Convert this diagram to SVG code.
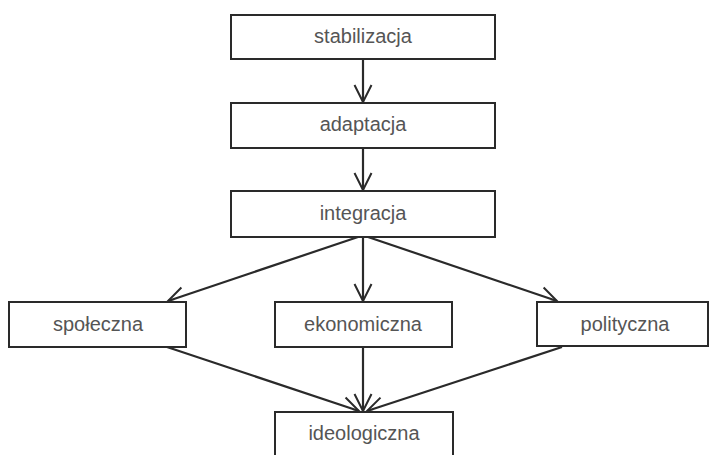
<svg xmlns="http://www.w3.org/2000/svg" width="709" height="455" viewBox="0 0 709 455">
<style>
.box{fill:#fff;stroke:#2a2a2a;stroke-width:2}
.lbl{font-family:"Liberation Sans",Arial,sans-serif;font-size:20px;fill:#555;text-anchor:middle}
.con{stroke:#2a2a2a;stroke-width:2.2;fill:none}
</style>
<defs>
<marker id="arr" markerUnits="userSpaceOnUse" viewBox="-20 -11 22 22" markerWidth="22" markerHeight="22" refX="0" refY="0" orient="auto">
<path d="M-17,-8.5 L0,0 L-17,8.5" fill="none" stroke="#2a2a2a" stroke-width="2"/>
</marker>
</defs>
<rect width="709" height="455" fill="#fff"/>
<g id="connectors">
<line class="con" x1="363" y1="59" x2="363" y2="102" marker-end="url(#arr)"/>
<line class="con" x1="363" y1="148" x2="363" y2="190" marker-end="url(#arr)"/>
<line class="con" x1="363" y1="237" x2="363" y2="301" marker-end="url(#arr)"/>
<line class="con" x1="358" y1="237" x2="168" y2="301" marker-end="url(#arr)"/>
<line class="con" x1="368" y1="237" x2="557" y2="301" marker-end="url(#arr)"/>
<line class="con" x1="363" y1="347" x2="363" y2="411" marker-end="url(#arr)"/>
<line class="con" x1="167" y1="347" x2="359" y2="411" marker-end="url(#arr)"/>
<line class="con" x1="562" y1="347" x2="367" y2="411" marker-end="url(#arr)"/>
</g>
<g id="stabilizacja"><rect class="box" x="231" y="15" width="264" height="44"/><text class="lbl" x="363" y="43">stabilizacja</text></g>
<g id="adaptacja"><rect class="box" x="231" y="103" width="264" height="45"/><text class="lbl" x="363" y="131">adaptacja</text></g>
<g id="integracja"><rect class="box" x="231" y="191" width="264" height="46"/><text class="lbl" x="363" y="220">integracja</text></g>
<g id="spoleczna"><rect class="box" x="9" y="302" width="177" height="45"/><text class="lbl" x="98" y="331">społeczna</text></g>
<g id="ekonomiczna"><rect class="box" x="275" y="302" width="177" height="45"/><text class="lbl" x="363" y="331">ekonomiczna</text></g>
<g id="polityczna"><rect class="box" x="537" y="302" width="171" height="44"/><text class="lbl" x="625" y="331">polityczna</text></g>
<g id="ideologiczna"><rect class="box" x="275" y="412" width="178" height="50"/><text class="lbl" x="364" y="440">ideologiczna</text></g>
</svg>
